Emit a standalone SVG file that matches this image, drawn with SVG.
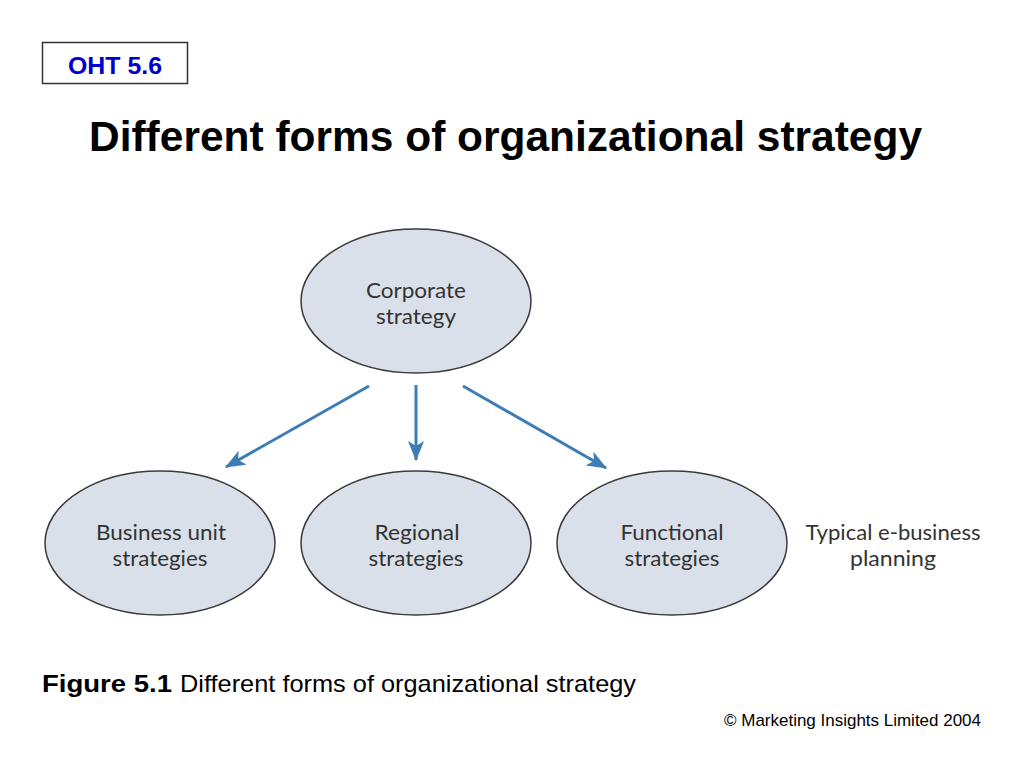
<svg xmlns="http://www.w3.org/2000/svg" width="1024" height="768" viewBox="0 0 1024 768">
<defs>
<style>
.node{fill:#d9e0e9;stroke:#3a3a3a;stroke-width:1.5}
.lbl{font-family:Lato,"Open Sans",sans-serif;font-size:21.5px;fill:#333;text-anchor:middle}
.conn{stroke:#3e7cb6;stroke-width:3;fill:none;marker-end:url(#ah)}
.cap{font-family:"Liberation Sans Narrow","Liberation Sans",Arial,sans-serif;fill:#000}
</style>
<marker id="ah" viewBox="0 0 20 16" refX="19" refY="8" markerWidth="20" markerHeight="16" markerUnits="userSpaceOnUse" orient="auto">
<path d="M0,0 L20,8 L0,16 L5,8 Z" fill="#3e7cb6"/>
</marker>
</defs>
<rect width="1024" height="768" fill="#fff"/>
<g id="oht">
<rect x="42.5" y="42.5" width="145" height="41" fill="#fff" stroke="#333" stroke-width="1.5"/>
<text x="115" y="74" font-family="Liberation Sans,Arial,sans-serif" font-weight="bold" font-size="24" fill="#0000cc" text-anchor="middle" textLength="94" lengthAdjust="spacingAndGlyphs">OHT 5.6</text>
</g>
<text id="title" x="89" y="151" font-family="Liberation Sans,Arial,sans-serif" font-weight="bold" font-size="42" fill="#000" textLength="833" lengthAdjust="spacingAndGlyphs">Different forms of organizational strategy</text>
<g id="corporate">
<ellipse class="node" cx="416" cy="301" rx="115" ry="72"/>
<text class="lbl" x="416" y="298" textLength="100" lengthAdjust="spacingAndGlyphs">Corporate</text>
<text class="lbl" x="416" y="324" textLength="80" lengthAdjust="spacingAndGlyphs">strategy</text>
</g>
<g id="business">
<ellipse class="node" cx="160" cy="543" rx="115" ry="72"/>
<text class="lbl" x="161" y="540" textLength="130" lengthAdjust="spacingAndGlyphs">Business unit</text>
<text class="lbl" x="160" y="566" textLength="95" lengthAdjust="spacingAndGlyphs">strategies</text>
</g>
<g id="regional">
<ellipse class="node" cx="416" cy="543" rx="115" ry="72"/>
<text class="lbl" x="417" y="540" textLength="85" lengthAdjust="spacingAndGlyphs">Regional</text>
<text class="lbl" x="416" y="566" textLength="95" lengthAdjust="spacingAndGlyphs">strategies</text>
</g>
<g id="functional">
<ellipse class="node" cx="672" cy="543" rx="115" ry="72"/>
<text class="lbl" x="672" y="540" textLength="103" lengthAdjust="spacingAndGlyphs">Functional</text>
<text class="lbl" x="672" y="566" textLength="95" lengthAdjust="spacingAndGlyphs">strategies</text>
</g>
<g id="note">
<text class="lbl" x="893" y="540" textLength="175" lengthAdjust="spacingAndGlyphs">Typical e-business</text>
<text class="lbl" x="893" y="566" textLength="86" lengthAdjust="spacingAndGlyphs">planning</text>
</g>
<g id="connectors">
<line class="conn" x1="369" y1="386" x2="226" y2="467"/>
<line class="conn" x1="416" y1="385" x2="416" y2="460"/>
<line class="conn" x1="463" y1="386" x2="606" y2="468"/>
</g>
<g id="caption">
<text class="cap" x="42" y="692" font-size="24" font-weight="bold" textLength="130" lengthAdjust="spacingAndGlyphs">Figure 5.1</text>
<text class="cap" x="180" y="692" font-size="24" textLength="456" lengthAdjust="spacingAndGlyphs">Different forms of organizational strategy</text>
<text class="cap" x="724" y="726" font-size="17" textLength="257" lengthAdjust="spacingAndGlyphs">© Marketing Insights Limited 2004</text>
</g>
</svg>
